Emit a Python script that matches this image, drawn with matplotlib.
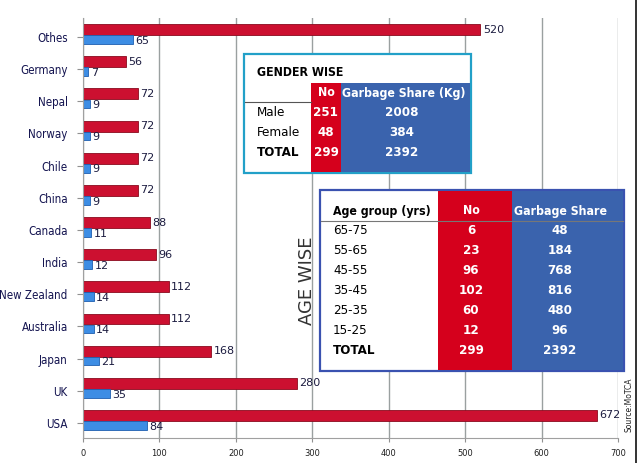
import matplotlib.pyplot as plt
from matplotlib.patches import Rectangle
import numpy as np

# Datos del grafico
paises = ['Othes', 'Germany', 'Nepal', 'Norway', 'Chile', 'China', 'Canada',
          'India', 'New Zealand', 'Australia', 'Japan', 'UK', 'USA']
valores_rojo = [520, 56, 72, 72, 72, 72, 88, 96, 112, 112, 168, 280, 672]
valores_azul = [65, 7, 9, 9, 9, 9, 11, 12, 14, 14, 21, 35, 84]
ticks_x = [0, 100, 200, 300, 400, 500, 600, 700]

# Tabla por genero
genero_filas = ['Male', 'Female', 'TOTAL']
genero_no = ['251', '48', '299']
genero_basura = ['2008', '384', '2392']

# Tabla por edad
edad_filas = ['65-75', '55-65', '45-55', '35-45', '25-35', '15-25', 'TOTAL']
edad_no = ['6', '23', '96', '102', '60', '12', '299']
edad_basura = ['48', '184', '768', '816', '480', '96', '2392']

ROJO = '#cc1030'
AZUL = '#3d8de4'
ROJO_T = '#d5001c'
AZUL_T = '#3a63ad'
TF = dict(family='DejaVu Sans', fontstretch='condensed', fontsize=9.5)
TH = dict(family='DejaVu Sans', fontstretch='condensed', fontsize=8.8, fontweight='bold')

fig = plt.figure(figsize=(6.4, 4.63), dpi=100)
ax = fig.add_axes([83 / 640, 1 - 438 / 463, 535 / 640, 420 / 463])

y = np.arange(len(paises))
ax.barh(y - 0.23, valores_rojo, height=0.34, color=ROJO, edgecolor='#8a0a1e', linewidth=0.6)
ax.barh(y + 0.08, valores_azul, height=0.27, color=AZUL, edgecolor='#1f5fb0', linewidth=0.6)

for i in range(len(paises)):
    ax.text(valores_rojo[i] + 3, y[i] - 0.23, str(valores_rojo[i]), va='center', ha='left',
            fontsize=8, color='#1c1c40')
    ax.text(valores_azul[i] + 3, y[i] + 0.12, str(valores_azul[i]), va='center', ha='left',
            fontsize=8, color='#1c1c40')

ax.set_xlim(0, 700)
ax.set_ylim(12.47, -0.59)
ax.set_xticks(ticks_x)
ax.set_xticklabels([str(t) for t in ticks_x], fontsize=6, color='#202020')
ax.set_yticks(y)
ax.set_yticklabels(paises, fontsize=8.3, color='#141450', fontstretch='condensed')
ax.tick_params(axis='y', length=4, pad=7, color='#909090')
ax.tick_params(axis='x', length=3, pad=5, color='#909090')
ax.grid(axis='x', color='#9aa0a0', linewidth=1.0)
ax.set_axisbelow(True)
for lado in ['top', 'right']:
    ax.spines[lado].set_visible(False)
ax.spines['left'].set_color('#a0a0a0')
ax.spines['bottom'].set_color('#a0a0a0')

# Capa para las tablas en coordenadas de pixel
ov = fig.add_axes([0, 0, 1, 1])
ov.set_xlim(0, 640)
ov.set_ylim(463, 0)
ov.axis('off')

# Tabla GENDER WISE
ov.add_patch(Rectangle((244, 54), 227, 119, facecolor='white', edgecolor='#22a0c8', linewidth=1.6))
ov.add_patch(Rectangle((311, 83), 30, 89, facecolor=ROJO_T, edgecolor='none'))
ov.add_patch(Rectangle((341, 83), 129, 89, facecolor=AZUL_T, edgecolor='none'))
ov.plot([245, 311], [102, 102], color='#555555', linewidth=0.8)
ov.text(257, 73, 'GENDER WISE', va='center', **TH)
ov.text(326, 93, 'No', color='white', ha='center', va='center', **TH)
ov.text(404, 93, 'Garbage Share (Kg)', color='white', ha='center', va='center', **TH)
for k, fila in enumerate(genero_filas):
    yy = 113 + 20 * k
    peso = 'bold' if fila == 'TOTAL' else 'normal'
    ov.text(257, yy, fila, fontweight=peso, va='center', **TF)
    ov.text(326, yy, genero_no[k], fontweight='bold', color='white',
            ha='center', va='center', **TF)
    ov.text(402, yy, genero_basura[k], fontweight='bold', color='white',
            ha='center', va='center', **TF)

# Tabla AGE WISE
ov.add_patch(Rectangle((320, 190), 304, 181, facecolor='white', edgecolor='#3a52b0', linewidth=1.6))
ov.add_patch(Rectangle((438, 191), 74, 179, facecolor=ROJO_T, edgecolor='none'))
ov.add_patch(Rectangle((512, 191), 111, 179, facecolor=AZUL_T, edgecolor='none'))
ov.plot([321, 623], [221, 221], color='#777777', linewidth=0.8)
ov.text(333, 211, 'Age group (yrs)', va='center', **TH)
ov.text(471, 211, 'No', color='white', ha='center', va='center', **TH)
ov.text(560, 211, 'Garbage Share', color='white', ha='center', va='center', **TH)
for k, fila in enumerate(edad_filas):
    yy = 230 + 20 * k
    peso = 'bold' if fila == 'TOTAL' else 'normal'
    ov.text(333, yy, fila, fontweight=peso, va='center', **TF)
    ov.text(471, yy, edad_no[k], fontweight='bold', color='white',
            ha='center', va='center', **TF)
    ov.text(560, yy, edad_basura[k], fontweight='bold', color='white',
            ha='center', va='center', **TF)

ov.text(307, 281, 'AGE WISE', fontsize=13, rotation=90, color='#333333', ha='center', va='center')
ov.text(629, 405, 'Source:MoTCA', fontsize=5.5, rotation=90, color='#222222', ha='center', va='center')
ov.plot([636, 636], [0, 463], color='#111111', linewidth=1.2)

fig.savefig('out.png', dpi=100)
